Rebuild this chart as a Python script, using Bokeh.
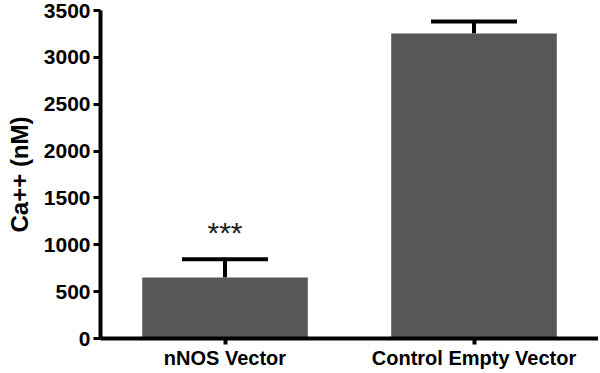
from bokeh.plotting import figure
from bokeh.models import ColumnDataSource, Whisker, TeeHead, FixedTicker, FactorRange, Range1d
from bokeh.core.properties import value
from bokeh.embed import file_html
from bokeh.resources import INLINE

categories = ["nNOS Vector", "Control Empty Vector"]
means = [652, 3255]
upper = [845, 3383]
marks = ["***", ""]
mark_y = [1135, 0]
y_ticks = [0, 500, 1000, 1500, 2000, 2500, 3000, 3500]

src = ColumnDataSource(data=dict(cat=categories, mean=means, upper=upper))

p = figure(x_range=FactorRange(*categories, range_padding=0), y_range=Range1d(0, 3500),
           width=598, height=371, output_backend="svg", toolbar_location=None,
           min_border_left=100, min_border_right=0, min_border_top=10, min_border_bottom=24)

p.vbar(x="cat", top="mean", width=0.665, source=src, fill_color="#575757", line_color=None)

w = Whisker(base="cat", upper="upper", lower="mean", source=src, line_color="black", line_width=4,
            upper_head=TeeHead(size=86, line_width=4, line_color="black"), lower_head=None)
p.add_layout(w)

msrc = ColumnDataSource(data=dict(cat=[categories[0]], y=[mark_y[0]], t=[marks[0]]))
p.text(x="cat", y="y", text="t", source=msrc, text_align="center", text_baseline="middle",
       text_font=value("Liberation Sans"), text_font_size="30px", text_color="#222222")

p.grid.visible = False
p.outline_line_color = None

p.yaxis.ticker = FixedTicker(ticks=y_ticks)
p.yaxis.axis_line_width = 4
p.yaxis.major_tick_line_width = 3
p.yaxis.major_tick_out = 7
p.yaxis.major_tick_in = 0
p.yaxis.minor_tick_line_color = None
p.yaxis.major_label_text_font = "Liberation Sans"
p.yaxis.major_label_text_font_style = "bold"
p.yaxis.major_label_text_font_size = "21px"
p.yaxis.major_label_text_color = "black"
p.yaxis.major_label_standoff = 3
p.yaxis.axis_label = "Ca++ (nM)"
p.yaxis.axis_label_text_font = "Liberation Sans"
p.yaxis.axis_label_text_font_style = "bold"
p.yaxis.axis_label_text_font_size = "24px"
p.yaxis.axis_label_text_line_height = 1.0
p.yaxis.axis_label_text_color = "black"
p.yaxis.axis_label_standoff = 8

p.xaxis.axis_line_width = 4
p.xaxis.major_tick_line_width = 4
p.xaxis.major_tick_out = 6
p.xaxis.major_tick_in = 0
p.xaxis.major_label_text_font = "Liberation Sans"
p.xaxis.major_label_text_font_style = "bold"
p.xaxis.major_label_text_font_size = "20px"
p.xaxis.major_label_text_color = "black"
p.xaxis.major_label_text_line_height = 1.0
p.xaxis.major_label_standoff = 2

open("out.html", "w").write(file_html(p, INLINE))
